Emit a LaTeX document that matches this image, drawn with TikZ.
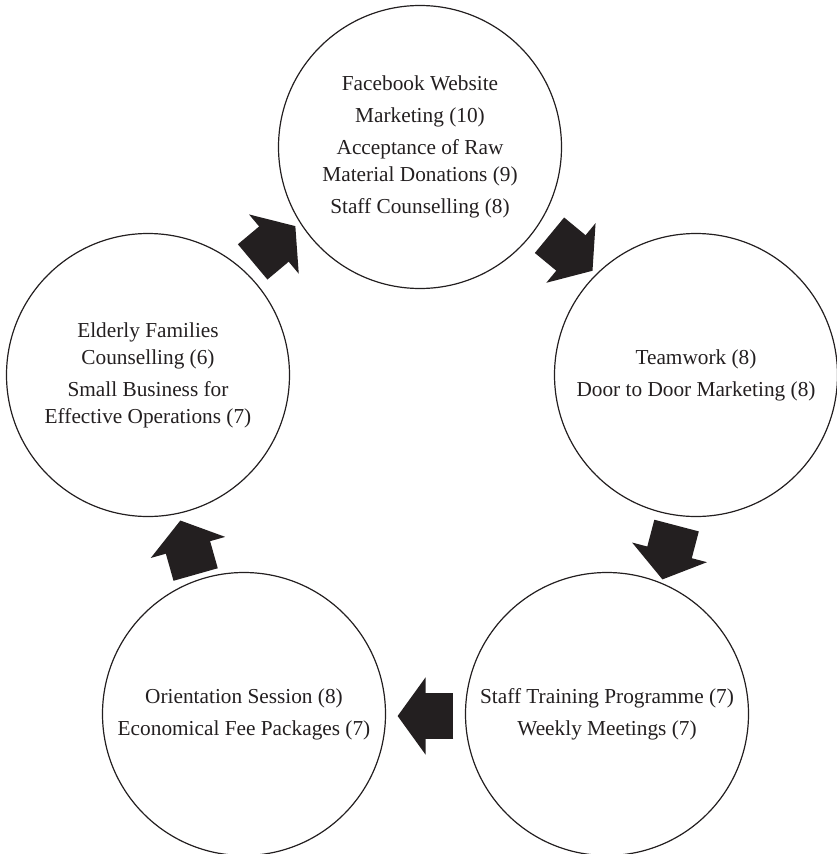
\documentclass[tikz,border=0pt]{standalone}
\usepackage{fontspec}
\setmainfont{Liberation Serif}
\usepackage{tikz}
\usetikzlibrary{arrows.meta}

\definecolor{inkblack}{HTML}{231F20}

\begin{document}
\begin{tikzpicture}[
  x=1pt,
  y=-1pt
]

  \tikzstyle{stagenode}=[draw=inkblack,circle,line width=1.2pt,minimum size=283pt,inner sep=0pt,align=center,text=inkblack,font=\fontsize{21.3}{27}\selectfont]
  \tikzstyle{cyclearrow}=[draw=inkblack,line width=46pt,-{Triangle[length=28pt,width=76pt]}]

  \useasboundingbox (0,0) rectangle (837,854);

  % nodes
  \node[stagenode] (facebook) at (420,147) {Facebook Website\\[5pt]Marketing (10)\\[5pt]Acceptance of Raw\\Material Donations (9)\\[5pt]Staff Counselling (8)};
  \node[stagenode] (teamwork) at (696,375) {Teamwork (8)\\[5pt]Door to Door Marketing (8)};
  \node[stagenode] (training) at (607,714) {Staff Training Programme (7)\\[5pt]Weekly Meetings (7)};
  \node[stagenode] (orientation) at (244,714) {Orientation Session (8)\\[5pt]Economical Fee Packages (7)};
  \node[stagenode] (elderly) at (148,375) {Elderly Families\\Counselling (6)\\[5pt]Small Business for\\Effective Operations (7)};

  % pointers
  \draw[cyclearrow,shorten <=7.5pt,shorten >=7.5pt,transform canvas={shift={(-10,-17)}}] (elderly)  -- (facebook);
  \draw[cyclearrow,shorten <=9pt,shorten >=9pt,transform canvas={shift={(13,-8)}}]      (facebook) -- (teamwork);
  \draw[cyclearrow,shorten <=5.3pt,shorten >=5.3pt,transform canvas={shift={(18,8)}}]   (teamwork) -- (training);
  \draw[cyclearrow,shorten <=11.5pt,shorten >=11.5pt,transform canvas={shift={(0,2)}}]  (training) -- (orientation);
  \draw[cyclearrow,shorten <=6pt,shorten >=6pt,transform canvas={shift={(-8,3)}}]       (orientation) -- (elderly);

\end{tikzpicture}
\end{document}
